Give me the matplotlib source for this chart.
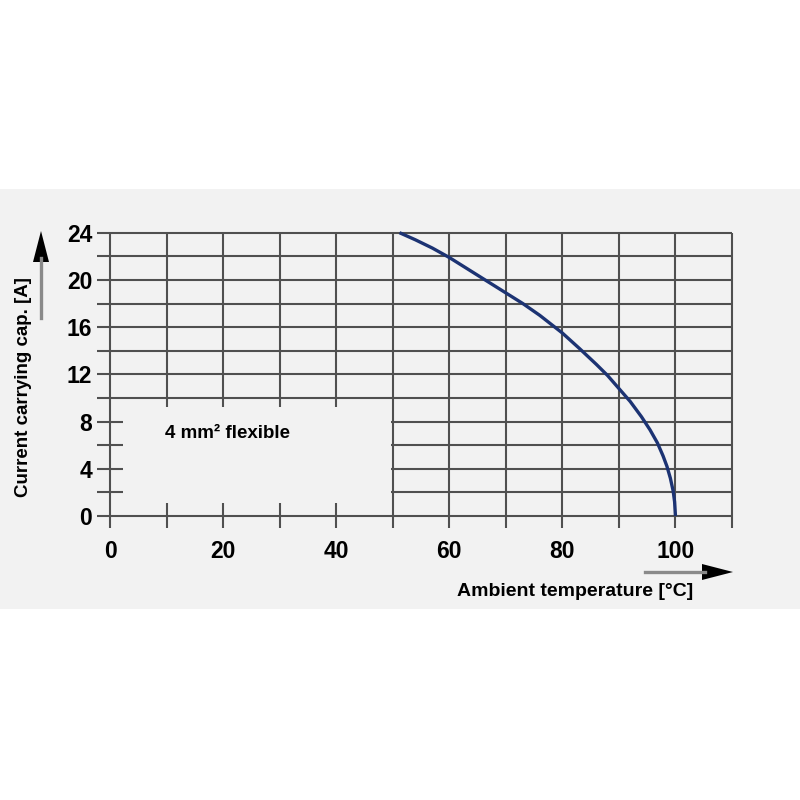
import matplotlib
matplotlib.use("Agg")
import matplotlib.pyplot as plt
from matplotlib.patches import Rectangle, Polygon
from matplotlib.lines import Line2D

# ---- data ----
temperature = [51.2, 54, 57, 60, 63, 66, 70, 73, 76, 80, 83, 86, 88, 90, 92, 94,
               95.5, 96.8, 97.8, 98.5, 99.1, 99.6, 99.85, 100]
current = [24.0, 23.4, 22.7, 21.9, 21.0, 20.1, 18.9, 18.0, 17.0, 15.5, 14.2, 12.85, 11.9, 10.8, 9.7, 8.4,
           7.3, 6.2, 5.1, 4.2, 3.2, 2.1, 1.2, 0.0]
x_ticks = [0, 20, 40, 60, 80, 100]
y_ticks = [0, 4, 8, 12, 16, 20, 24]
x_grid = list(range(0, 111, 10))
y_grid = list(range(0, 25, 2))
curve_label = "4 mm² flexible"
x_label = "Ambient temperature [°C]"
y_label = "Current carrying cap. [A]"

plt.rcParams['font.family'] = ['Liberation Sans', 'DejaVu Sans']

BG = "#f2f2f2"
GRID = "#505050"
W, H = 800, 800

fig = plt.figure(figsize=(8, 8), dpi=100)
fig.patch.set_facecolor("white")
# grey band
fig.add_artist(Rectangle((0, 1 - 609 / H), 1, (609 - 189) / H, transform=fig.transFigure,
                         facecolor=BG, edgecolor="none", zorder=0))

xmin, xmax = -2.3, 110
ymin, ymax = -1.0, 24
left = 97 / W
right = 732 / W
top = 1 - 232.7 / H
bottom = 1 - 527.8 / H
ax = fig.add_axes([left, bottom, right - left, top - bottom])
ax.set_facecolor("none")
ax.set_xlim(xmin, xmax)
ax.set_ylim(ymin, ymax)
for s in ax.spines.values():
    s.set_visible(False)

lw = 1.5
ax.vlines(x_grid, ymin, ymax, colors=GRID, linewidth=lw, zorder=1, clip_on=False)
ax.hlines(y_grid, xmin, xmax, colors=GRID, linewidth=lw, zorder=1, clip_on=False)
# blank label box
ax.add_patch(Rectangle((2.3, 1.1), 50 - 2.3 - 0.25, 9.2 - 1.1, facecolor=BG, edgecolor="none", zorder=2))

ax.plot(temperature, current, color="#1c3373", linewidth=2.4, zorder=4,
        solid_capstyle="butt", solid_joinstyle="round", clip_on=False)

ax.text(9.7, 7.0, curve_label, fontsize=13.5, fontweight="bold", va="center", ha="left", zorder=5)

ax.set_xticks(x_ticks)
ax.set_xticklabels([str(v) for v in x_ticks], fontsize=16.5, fontweight="bold")
ax.set_yticks(y_ticks)
ax.set_yticklabels([str(v) for v in y_ticks], fontsize=16.5, fontweight="bold")
ax.tick_params(axis="x", length=0, pad=8.5)
ax.tick_params(axis="y", length=0, pad=3.5)

# axis labels
fig.text(575 / W, 1 - 592 / H, x_label, fontsize=14, fontweight="bold", ha="center", va="center")
fig.text(24 / W, 1 - 387 / H, y_label, fontsize=13.5, fontweight="bold", ha="center", va="center",
         rotation=90)

# arrows
def px(x, y):
    return (x / W, 1 - y / H)

fig.add_artist(Line2D([645 / W, 705 / W], [1 - 572 / H, 1 - 572 / H], transform=fig.transFigure,
                      color="#8a8a8a", linewidth=2.4))
fig.add_artist(Polygon([px(702, 564), px(733, 572), px(702, 580)], closed=True,
                       transform=fig.transFigure, facecolor="black", edgecolor="none"))
fig.add_artist(Line2D([41 / W, 41 / W], [1 - 318 / H, 1 - 258 / H], transform=fig.transFigure,
                      color="#8a8a8a", linewidth=2.4))
fig.add_artist(Polygon([px(33, 262), px(41, 231), px(49, 262)], closed=True,
                       transform=fig.transFigure, facecolor="black", edgecolor="none"))

fig.savefig("out.png", dpi=100, facecolor=fig.get_facecolor())
